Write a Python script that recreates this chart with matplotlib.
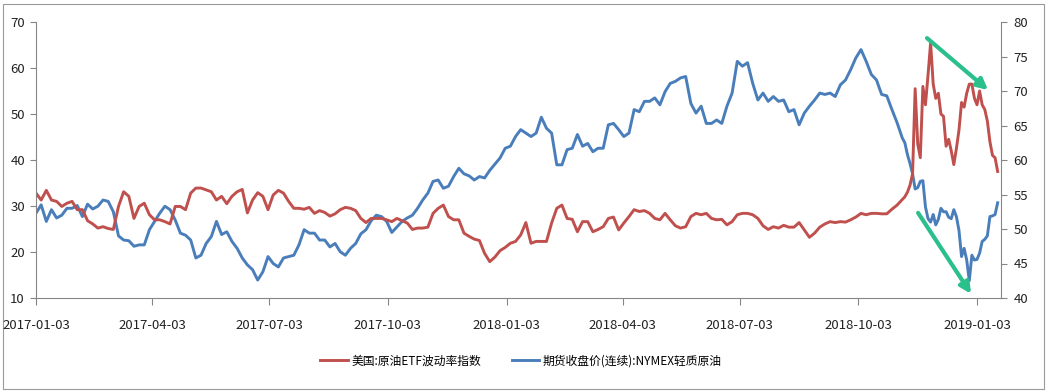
import numpy as np
import pandas as pd
import matplotlib
matplotlib.use('Agg')
import matplotlib.pyplot as plt
import matplotlib.dates as mdates
from matplotlib.patches import Rectangle

plt.rcParams['font.family'] = ['Noto Sans CJK SC', 'DejaVu Sans']

# --- дані ---
start = pd.Timestamp('2017-01-03')
days = list(range(0, 672, 4)) + list(range(672, 748, 2))
dates = start + pd.to_timedelta(days, unit='D')

# 美国:原油ETF波动率指数 (ліва вісь)
ovx = [32.8, 31.3, 33.4, 31.3, 31.0, 29.9, 30.6, 31.0, 29.2, 29.2,
       26.8, 26.1, 25.2, 25.5, 25.1, 24.9, 29.9, 33.1, 32.1, 27.3,
       29.9, 30.6, 28.1, 27.0, 27.0, 26.6, 26.1, 29.9, 29.9, 29.2,
       32.8, 33.9, 33.9, 33.5, 33.1, 31.3, 32.1, 30.5, 32.1, 33.1,
       33.6, 28.5, 31.3, 32.9, 32.1, 29.2, 32.4, 33.4, 32.8, 31.0,
       29.5, 29.5, 29.3, 29.7, 28.4, 29.0, 28.6, 27.8, 28.3, 29.2,
       29.7, 29.5, 29.0, 27.3, 26.4, 27.3, 27.3, 27.3, 27.0, 26.6,
       27.3, 26.8, 26.3, 24.9, 25.2, 25.2, 25.4, 28.4, 29.5, 30.2,
       27.7, 27.0, 27.0, 24.1, 23.4, 22.8, 22.5, 19.7, 17.9, 18.9,
       20.3, 21.0, 21.9, 22.3, 23.7, 26.4, 21.9, 22.3, 22.3, 22.3,
       26.3, 29.5, 30.2, 27.3, 27.1, 24.4, 26.6, 26.6, 24.4, 24.9,
       25.5, 27.3, 27.6, 24.8, 26.3, 27.7, 29.2, 28.8, 29.0, 28.4,
       27.3, 27.0, 28.4, 27.0, 25.7, 25.2, 25.5, 27.7, 28.4, 28.1,
       28.4, 27.3, 27.0, 27.1, 25.9, 26.6, 28.1, 28.4, 28.4, 28.1,
       27.3, 25.7, 24.9, 25.5, 25.2, 25.8, 25.4, 25.4, 26.4, 24.8,
       23.2, 24.1, 25.4, 26.1, 26.6, 26.4, 26.6, 26.5, 27.0, 27.6,
       28.4, 28.1, 28.4, 28.4, 28.3, 28.3, 29.3, 30.2,
       31.4, 32.0, 33.0, 34.5, 37.0, 55.5, 43.5, 40.5, 56.0, 52.0,
       58.5, 65.5, 56.5, 53.4, 54.5, 50.0, 49.5, 43.0, 44.5, 42.0,
       39.0, 42.5, 46.5, 52.5, 51.5, 54.5, 56.5, 56.5, 53.4, 52.0,
       55.0, 52.0, 51.0, 48.5, 44.0, 41.0, 40.5, 37.5]

# 期货收盘价(连续):NYMEX轻质原油 (права вісь)
wti = [52.3, 53.5, 51.1, 52.8, 51.6, 52.0, 53.0, 53.0, 53.4, 51.8,
       53.6, 52.9, 53.3, 54.2, 54.0, 52.5, 49.0, 48.4, 48.3, 47.5,
       47.7, 47.7, 49.9, 51.1, 52.3, 53.3, 52.8, 51.3, 49.4, 49.1,
       48.4, 45.8, 46.2, 47.9, 48.9, 51.1, 49.2, 49.6, 48.2, 47.2,
       45.8, 44.8, 44.1, 42.6, 43.8, 46.0, 45.0, 44.5, 45.8, 46.0,
       46.2, 47.7, 49.9, 49.4, 49.4, 48.4, 48.4, 47.4, 47.9, 46.7,
       46.2, 47.2, 47.9, 49.3, 49.9, 51.2, 52.0, 51.8, 51.1, 49.5,
       50.3, 51.1, 51.6, 52.0, 53.0, 54.2, 55.2, 56.9, 57.1, 55.9,
       56.2, 57.6, 58.8, 58.0, 57.7, 57.1, 57.6, 57.4, 58.5, 59.4,
       60.3, 61.7, 62.0, 63.4, 64.4, 63.9, 63.4, 63.9, 66.2, 64.6,
       63.9, 59.3, 59.3, 61.5, 61.7, 63.7, 62.0, 62.4, 61.2, 61.7,
       61.7, 65.1, 65.3, 64.4, 63.4, 63.9, 67.3, 67.0, 68.5, 68.5,
       69.0, 68.0, 69.9, 71.1, 71.4, 71.9, 72.1, 68.2, 66.8, 67.8,
       65.3, 65.3, 65.8, 65.3, 67.8, 69.7, 74.3, 73.6, 74.1, 71.1,
       68.7, 69.7, 68.5, 69.2, 68.5, 68.7, 67.0, 67.3, 65.1, 66.8,
       67.8, 68.7, 69.7, 69.5, 69.7, 69.2, 70.9, 71.6, 73.1, 74.8,
       76.0, 74.3, 72.4, 71.6, 69.5, 69.3, 67.3, 65.4,
       63.2, 62.5, 60.8, 59.5, 58.0, 55.8, 56.0, 56.9, 57.0, 53.2,
       51.5, 51.0, 52.1, 50.6, 51.4, 53.0, 52.5, 52.5, 51.7, 51.5,
       52.8, 51.8, 49.8, 46.0, 47.2, 45.5, 42.5, 46.2, 45.5, 45.6,
       46.5, 48.2, 48.5, 49.0, 51.8, 51.9, 52.1, 53.8]

tick_labels = ['2017-01-03', '2017-04-03', '2017-07-03', '2017-10-03', '2018-01-03',
               '2018-04-03', '2018-07-03', '2018-10-03', '2019-01-03']
left_ticks = [10, 20, 30, 40, 50, 60, 70]
right_ticks = [40, 45, 50, 55, 60, 65, 70, 75, 80]

red = '#C0504D'
blue = '#4A7EBB'
green = '#2BBF8C'
gray = '#868686'

fig = plt.figure(figsize=(10.46, 3.92), dpi=100)
ax = fig.add_axes([36 / 1046, 1 - 298 / 392, 965 / 1046, 276 / 392])
ax2 = ax.twinx()

l1, = ax.plot(dates, ovx, color=red, linewidth=2.1, label='美国:原油ETF波动率指数')
l2, = ax2.plot(dates, wti, color=blue, linewidth=2.1, label='期货收盘价(连续):NYMEX轻质原油')

ax.set_xlim(start, start + pd.Timedelta(days=748.6))
ax.set_ylim(10, 70)
ax2.set_ylim(40, 80)
ax.set_yticks(left_ticks)
ax2.set_yticks(right_ticks)
ax.set_xticks(pd.to_datetime(tick_labels))
ax.set_xticklabels(tick_labels)

for a in (ax, ax2):
    a.spines['top'].set_visible(False)
    for s in ('left', 'right', 'bottom'):
        a.spines[s].set_color(gray)
        a.spines[s].set_linewidth(0.8)
ax.spines['right'].set_visible(False)
ax2.spines['left'].set_visible(False)
ax2.spines['bottom'].set_visible(False)

ax.tick_params(axis='y', direction='out', length=4, width=0.8, color=gray,
               pad=4, labelsize=9.5, labelcolor='#222222')
ax2.tick_params(axis='y', direction='out', length=4, width=0.8, color=gray,
                pad=5, labelsize=9.5, labelcolor='#222222')
ax.tick_params(axis='x', direction='out', length=5, width=0.8, color=gray,
               pad=10, labelsize=9.5, labelcolor='#222222')

# зелені стрілки
def dnum(d):
    return mdates.date2num(start + pd.Timedelta(days=d))

arrow = dict(arrowstyle='-|>', color=green, lw=3, mutation_scale=16, shrinkA=0, shrinkB=0)
ax.annotate('', xy=(dnum(738.6), 55.2), xytext=(dnum(691.2), 66.5), arrowprops=arrow, zorder=5)
ax.annotate('', xy=(dnum(725.4), 10.9), xytext=(dnum(684.3), 28.5), arrowprops=arrow, zorder=5)
ax.set_zorder(ax2.get_zorder() + 1)
ax.patch.set_visible(False)

fig.legend(handles=[l1, l2], loc='center', bbox_to_anchor=(0.498, 0.079), ncol=2,
           frameon=False, fontsize=8.5, handlelength=2.3, handletextpad=0.3,
           columnspacing=2.6)

fig.add_artist(Rectangle((3 / 1046, 3 / 392), 1041 / 1046, 385 / 392, transform=fig.transFigure,
                         fill=False, edgecolor='#9a9a9a', linewidth=0.8))

fig.savefig('out.png', dpi=100)
